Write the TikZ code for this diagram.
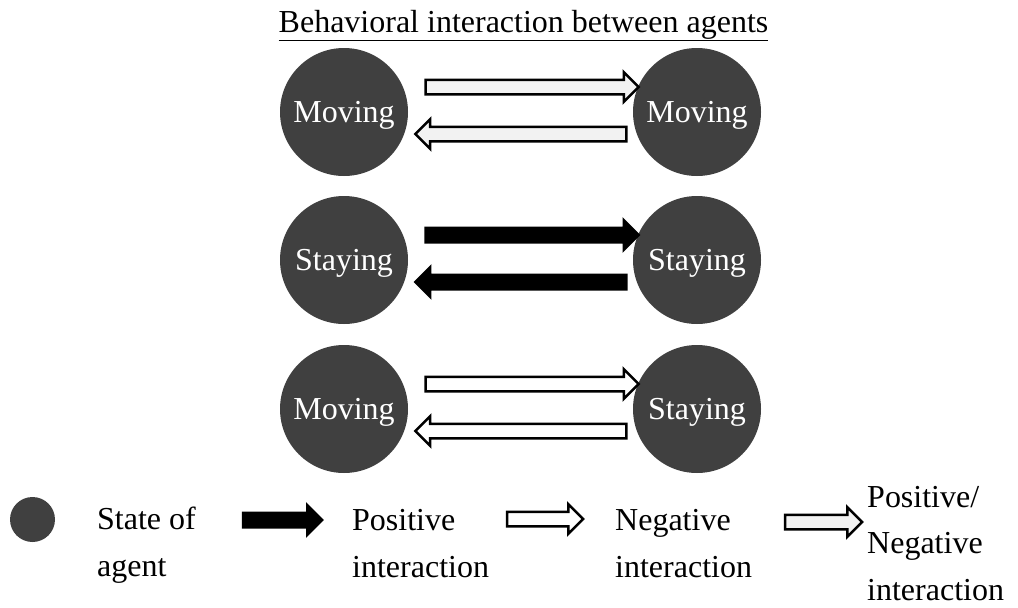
\documentclass[tikz,border=0pt]{standalone}
\usepackage{fontspec}
\setmainfont{Liberation Serif}
\usetikzlibrary{shapes.arrows,calc}

\definecolor{agentgray}{HTML}{404040}

\tikzset{
  agent/.style={circle, fill=agentgray, minimum size=128pt, inner sep=0pt,
    text=white, text depth=0pt},
  fatarrow/.style={single arrow, draw=black, line width=2.5pt, inner sep=0pt,
    text height=6pt, text depth=6pt, minimum height=#1,
    single arrow head extend=7.5pt},
  % anchored at the baseline of the last line
  keytext/.style={anchor=base west, align=left, inner sep=0pt},
}

\begin{document}
\begin{tikzpicture}[x=1pt, y=-1pt, font=\fontsize{32}{46.5}\selectfont]
\useasboundingbox (0,0) rectangle (1018,608);

\node[anchor=base] (title) at (523.5,32) {\underline{Behavioral interaction between agents}};

% pairs of agents with their interaction arrows
\foreach \row/\ya/\lname/\rname/\clr in {1/112/Moving/Moving/gray!10,
    2/260/Staying/Staying/black, 3/409/Moving/Staying/white} {
  \node[agent] (l\row) at (344,\ya) {\lname};
  \node[agent] (r\row) at (697,\ya) {\rname};
  \node[fatarrow=213, fill=\clr] (to\row) at ($(l\row)!0.5!(r\row)+(8,-25)$) {};
  \node[fatarrow=211, fill=\clr, shape border rotate=180] (back\row)
    at ($(l\row)!0.5!(r\row)+(4,22)$) {};
}

% legend
\node[agent, minimum size=45pt] (key) at (32.5,519.5) {};
\node[keytext] (keystate) at (97,576) {State of\\agent};
\node[fatarrow=79, fill=black] (keypos) at (279,520) {};
\node[keytext] (keyposlbl) at (352,577) {Positive\\interaction};
\node[fatarrow=76, fill=white] (keyneg) at (541.5,519) {};
\node[keytext] (keyneglbl) at (615,577) {Negative\\interaction};
\node[fatarrow=77, fill=gray!10] (keyboth) at (820,522) {};
\node[keytext] (keybothlbl) at (867,600) {Positive/\\Negative\\interaction};
\end{tikzpicture}
\end{document}
